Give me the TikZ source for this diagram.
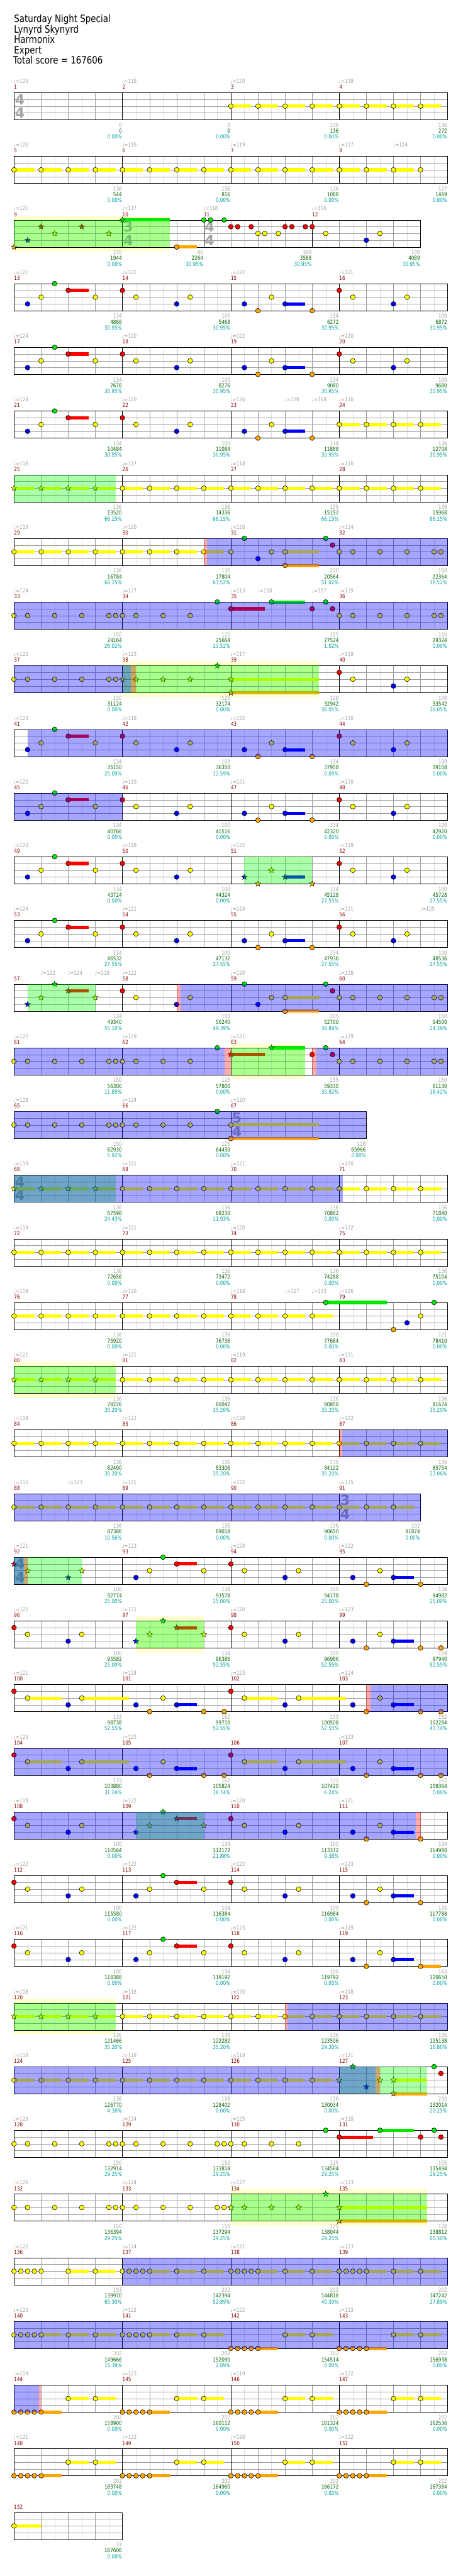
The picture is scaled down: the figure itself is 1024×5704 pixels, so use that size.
\documentclass[tikz,border=0pt]{standalone}
\usepackage{fontspec}
\setmainfont{DejaVu Sans}
\newfontfamily\numf{DejaVu Sans}[FakeStretch=0.82]
\newfontfamily\titf{DejaVu Sans}[FakeStretch=0.83]
\usetikzlibrary{shapes.geometric}
\definecolor{lane0}{RGB}{0,230,0}
\definecolor{lane1}{RGB}{255,0,0}
\definecolor{lane2}{RGB}{255,255,0}
\definecolor{lane3}{RGB}{0,0,255}
\definecolor{lane4}{RGB}{255,165,0}
\definecolor{gline}{RGB}{155,155,155}
\definecolor{lline}{RGB}{222,222,222}
\definecolor{bandc}{RGB}{255,255,208}
\definecolor{tcol}{RGB}{160,160,160}
\definecolor{mcol}{RGB}{140,0,0}
\definecolor{ccol}{RGB}{0,100,0}
\definecolor{pcol}{RGB}{0,160,160}
\definecolor{tsigc}{RGB}{165,165,165}
\definecolor{ogreen}{RGB}{0,255,0}
\definecolor{oblue}{RGB}{0,0,255}
\definecolor{ored}{RGB}{255,0,0}
\tikzset{
 smallfont/.style={font=\numf\fontsize{12.3}{12}\selectfont},
 mnum/.style={smallfont, anchor=base west, inner sep=0pt, text=mcol},
 tempo/.style={smallfont, anchor=base west, inner sep=0pt, text=tcol},
 sA/.style={smallfont, anchor=base east, inner sep=0pt, text=tcol},
 sB/.style={smallfont, anchor=base east, inner sep=0pt, text=ccol},
 sC/.style={smallfont, anchor=base east, inner sep=0pt, text=pcol},
 tsstyle/.style={inner sep=0pt, text=tsigc, font=\fontsize{31}{31}\selectfont\bfseries},
 gov/.style={fill=ogreen, fill opacity=0.33},
 bov/.style={fill=oblue, fill opacity=0.35},
 pov/.style={fill=ored, fill opacity=0.33},
 notec/.style={line width=0.8pt, draw=black},
 starn/.style={star, star points=5, star point ratio=2.3, minimum size=13pt, inner sep=0pt, draw=black, line width=0.6pt},
 titl/.style={anchor=base west, inner sep=0pt, font=\titf\fontsize{22.5}{23}\selectfont}
}
% grid: row, beats, measure lines (beats)
\newcommand\grid[3]{%
 \pgfmathsetmacro\gy{205+141*#1}%
 \pgfmathsetmacro\gx{31+60*#2}%
 \pgfmathtruncatemacro\ne{2*#2-1}%
 \pgfmathtruncatemacro\nb{#2-1}%
 \foreach \i in {1,...,\ne} {\draw[lline] ({31+30*\i},\gy) -- ++(0,60);}
 \foreach \i in {1,...,\nb} {\draw[gline] ({31+60*\i},\gy) -- ++(0,60);}
 \foreach \k in {15,30,45} {\draw[gline] (31,\gy+\k) -- (\gx,\gy+\k);}
 \foreach \i in {#3} {\draw[black] ({31+60*\i},\gy) -- ++(0,60);}
 \draw[black] (31,\gy) rectangle (\gx,\gy+60);
}
\newcommand\band[3]{\pgfmathsetmacro\oy{205+141*#1}\fill[bandc] ({31+15*#2},\oy-10) rectangle ({31+15*#3},\oy+70);}
\newcommand\ovl[4]{\pgfmathsetmacro\oy{205+141*#1}\fill[#4] ({31+15*#2},\oy) rectangle ({31+15*#3},\oy+60);}
\newcommand\tsig[3]{%
 \pgfmathsetmacro\ty{205+141*#1}%
 \node[tsstyle] (ts-#1-#2a) at ({31+60*#2+13},\ty+15) {#3};
 \node[tsstyle] (ts-#1-#2b) at ({31+60*#2+13},\ty+45) {4};}
\newcommand\onenote[4]{%
 \pgfmathsetmacro\ny{205+141*#1+15*#3}%
 \pgfmathsetmacro\nx{31+15*#2}%
 \colorlet{cur}{lane#3}%
 \ifnum#4>0 \fill[cur] (\nx,\ny-3.5) rectangle ({31+15*#4},\ny+3.5);\fi
 \draw[notec, fill=cur] (\nx,\ny) circle (5.3);}
\newcommand\onestar[4]{%
 \pgfmathsetmacro\ny{205+141*#1+15*#3}%
 \pgfmathsetmacro\nx{31+15*#2}%
 \colorlet{cur}{lane#3}%
 \ifnum#4>0 \fill[cur] (\nx,\ny-3.5) rectangle ({31+15*#4},\ny+3.5);\fi
 \node[starn, fill=cur] (s-#1-#2-#3) at (\nx,\ny) {};}
\newcommand\notes[2]{\edef\tmplist{#2}\foreach \p/\l/\e in \tmplist {\onenote{#1}{\p}{\l}{\e}}}
\newcommand\stars[2]{\edef\tmplist{#2}\foreach \p/\l/\e in \tmplist {\onestar{#1}{\p}{\l}{\e}}}
\newcommand\yrun[3]{\pgfmathtruncatemacro\ysec{#2+4}\foreach \p in {#2,\ysec,...,#3} {\pgfmathtruncatemacro\ee{\p+3}\onenote{#1}{\p}{2}{\ee}}}
\newcommand\ysrun[3]{\pgfmathtruncatemacro\ysec{#2+4}\foreach \p in {#2,\ysec,...,#3} {\pgfmathtruncatemacro\ee{\p+3}\onestar{#1}{\p}{2}{\ee}}}
\newcommand\meas[8]{%
 \pgfmathsetmacro\my{205+141*#1}%
 \pgfmathsetmacro\mx{31+15*#2}%
 \pgfmathsetmacro\ex{31+15*#5}%
 \node[mnum] (mn-#3) at (\mx,\my-7.7) {#3};
 \ifx\relax#4\relax\else\node[tempo] (tp-#3) at (\mx-1,\my-20.5) {♩=#4};\fi
 \node[sA] (sa-#3) at (\ex-1,\my+76.3) {#6};
 \node[sB] (sb-#3) at (\ex-1,\my+89.3) {#7};
 \node[sC] (sc-#3) at (\ex-1,\my+102.3) {#8};}
\newcommand\xtempo[3]{\pgfmathsetmacro\my{205+141*#1}\node[tempo] (tx-#1-#2) at ({31+15*#2-1},\my-20.5) {♩=#3};}
% note lists
\def\PAa{2/3/0,4/2/0,6/0/0,8/1/11,12/2/0}
\def\PAb{16/1/0,18/2/0,24/3/0,26/2/0}
\def\PAc{34/3/0,36/4/0,38/2/0,40/3/43,44/4/0}
\def\PAd{48/1/0,50/2/0,56/3/0,58/2/0}
\def\PC{0/2/0,2/2/0,6/2/0,10/2/0,14/2/0,15/2/0,16/2/0,18/2/0,22/2/0,26/2/0}
\def\PCtail{46/0/0,47/1/0,48/2/0,50/2/0,54/2/0,58/2/0,62/2/0,63/2/0}
\def\PBmid{34/0/0,36/3/0,38/2/0,40/2/45,40/4/45}
\def\Dd{0/1/0,2/2/0,8/3/0,10/2/0}
\def\Da{18/3/0,20/2/0,22/0/0,24/1/27,28/2/0}
\def\Db{32/1/0,34/2/0,40/3/0,42/2/0}
\def\Dc{50/3/0,52/4/0,54/2/0,56/3/59}
\def\PEe{0/1/0,2/2/7,8/3/0,10/2/17,18/3/0,20/4/0,22/2/0,24/3/27,28/4/0,31/4/0,32/1/0,34/2/39,40/3/0,42/2/49,50/3/0,52/4/0,54/2/0,56/3/59,60/4/0,63/4/0}
\def\qg#1#2{\the\numexpr#1\relax/#2/0,\the\numexpr#1+1\relax/#2/0,\the\numexpr#1+2\relax/#2/0,\the\numexpr#1+3\relax/#2/0,\the\numexpr#1+4\relax/#2/\the\numexpr#1+7\relax}
\def\hh#1{\the\numexpr#1\relax/2/\the\numexpr#1+3\relax}
\begin{document}
\begin{tikzpicture}[x=1pt,y=-1pt]
\useasboundingbox (0,0) rectangle (1024,5704);
\fill[white] (0,0) rectangle (1024,5704);
\node[titl] (t1) at (31,50) {Saturday Night Special};
\node[titl] (t2) at (31,73) {Lynyrd Skynyrd};
\node[titl] (t3) at (31,95.5) {Harmonix};
\node[titl] (t4) at (31,118.5) {Expert};
\node[titl] (t5) at (29,141.5) {Total score = 167606};
% Row 0
\grid{0}{16}{4,8,12}\tsig{0}{0}{4}\yrun{0}{32}{60}
\meas{0}{0}{1}{120}{16}{0}{0}{0.00\%}\meas{0}{16}{2}{118}{32}{0}{0}{0.00\%}\meas{0}{32}{3}{120}{48}{136}{136}{0.00\%}\meas{0}{48}{4}{119}{64}{136}{272}{0.00\%}
% Row 1
\grid{1}{16}{4,8,12}\yrun{1}{0}{56}\notes{1}{60/2/0}
\meas{1}{0}{5}{120}{16}{136}{544}{0.00\%}\meas{1}{16}{6}{119}{32}{136}{816}{0.00\%}\meas{1}{32}{7}{119}{48}{136}{1088}{0.00\%}\meas{1}{48}{8}{117}{64}{127}{1469}{0.00\%}\xtempo{1}{56}{124}
% Row 2
\band{2}{0}{23}\grid{2}{15}{4,7,11}\tsig{2}{4}{3}\tsig{2}{7}{4}
\stars{2}{0/4/0,2/3/0,4/1/0,6/2/0,10/1/0,14/2/0,16/0/23}
\notes{2}{24/4/27,28/0/0,29/0/0,31/0/0,32/1/0,33/1/0,35/1/0,36/2/0,37/2/0,39/2/0,40/1/0,41/1/0,43/1/0,44/1/0,46/2/0,52/3/0,54/2/0}
\ovl{2}{0}{23}{gov}
\meas{2}{0}{9}{121}{16}{150}{1944}{0.00\%}\meas{2}{16}{10}{117}{28}{80}{2264}{30.95\%}\meas{2}{28}{11}{118}{44}{300}{3589}{30.95\%}\meas{2}{44}{12}{116}{60}{100}{4089}{30.95\%}
% Row 3
\grid{3}{16}{4,8,12}\notes{3}{\PAa,\PAb,\PAc,\PAd}
\meas{3}{0}{13}{121}{16}{134}{4868}{30.95\%}\meas{3}{16}{14}{121}{32}{100}{5468}{30.95\%}\meas{3}{32}{15}{122}{48}{134}{6272}{30.95\%}\meas{3}{48}{16}{121}{64}{100}{6872}{30.95\%}
% Row 4
\grid{4}{16}{4,8,12}\notes{4}{\PAa,\PAb,\PAc,\PAd}
\meas{4}{0}{17}{124}{16}{134}{7676}{30.95\%}\meas{4}{16}{18}{120}{32}{100}{8276}{30.95\%}\meas{4}{32}{19}{122}{48}{134}{9080}{30.95\%}\meas{4}{48}{20}{120}{64}{100}{9680}{30.95\%}
% Row 5
\grid{5}{16}{4,8,12}\notes{5}{\PAa,\PAb,\PAc}\yrun{5}{48}{60}
\meas{5}{0}{21}{124}{16}{134}{10484}{30.95\%}\meas{5}{16}{22}{120}{32}{100}{11084}{30.95\%}\meas{5}{32}{23}{126}{48}{134}{11888}{30.95\%}\meas{5}{48}{24}{116}{64}{136}{12704}{30.95\%}\xtempo{5}{40}{120}\xtempo{5}{44}{114}
% Row 6
\grid{6}{16}{4,8,12}\ysrun{6}{0}{12}\yrun{6}{16}{60}\ovl{6}{0}{15}{gov}
\meas{6}{0}{25}{118}{16}{136}{13520}{66.15\%}\meas{6}{16}{26}{117}{32}{136}{14336}{66.15\%}\meas{6}{32}{27}{118}{48}{136}{15152}{66.15\%}\meas{6}{48}{28}{116}{64}{136}{15968}{66.15\%}
% Row 7
\grid{7}{16}{4,8,12}\yrun{7}{0}{28}\notes{7}{32/2/0,\PBmid,\PCtail}\ovl{7}{28.5}{64}{bov}\ovl{7}{28}{28.5}{pov}
\meas{7}{0}{29}{119}{16}{136}{16784}{66.15\%}\meas{7}{16}{30}{120}{32}{136}{17804}{63.52\%}\meas{7}{32}{31}{120}{48}{230}{20564}{51.02\%}\meas{7}{48}{32}{124}{64}{150}{22364}{38.52\%}
% Row 8
\grid{8}{16}{4,8,12}\notes{8}{\PC,30/0/0,32/1/37,38/0/43,44/1/0,\PCtail}\ovl{8}{0}{64}{bov}
\meas{8}{0}{33}{124}{16}{150}{24164}{26.02\%}\meas{8}{16}{34}{127}{32}{125}{25664}{13.52\%}\meas{8}{32}{35}{113}{48}{155}{27524}{1.02\%}\meas{8}{48}{36}{129}{64}{150}{29324}{0.00\%}\xtempo{8}{36}{118}\xtempo{8}{44}{127}
% Row 9
\band{9}{16}{45}\grid{9}{16}{4,8,12}\notes{9}{0/2/0,2/2/0,6/2/0,10/2/0,14/2/0,15/2/0,\PAd}
\stars{9}{16/2/0,18/2/0,22/2/0,26/2/0,30/0/0,32/2/45,32/4/45}
\ovl{9}{16}{45}{gov}\ovl{9}{0}{17.2}{bov}\ovl{9}{17.2}{18}{pov}
\meas{9}{0}{37}{125}{16}{150}{31124}{0.00\%}\meas{9}{16}{38}{123}{32}{125}{32174}{0.00\%}\meas{9}{32}{39}{117}{48}{128}{32942}{36.05\%}\meas{9}{48}{40}{119}{64}{100}{33542}{36.05\%}
% Row 10
\grid{10}{16}{4,8,12}\notes{10}{\PAa,\PAb,\PAc,\PAd}\ovl{10}{2}{64}{bov}
\meas{10}{0}{41}{123}{16}{134}{35150}{25.09\%}\meas{10}{16}{42}{118}{32}{100}{36350}{12.59\%}\meas{10}{32}{43}{122}{48}{134}{37958}{0.09\%}\meas{10}{48}{44}{120}{64}{100}{39158}{0.00\%}
% Row 11
\grid{11}{16}{4,8,12}\notes{11}{\PAa,\PAb,\PAc,\PAd}\ovl{11}{0}{16}{bov}
\meas{11}{0}{45}{122}{16}{134}{40766}{0.00\%}\meas{11}{16}{46}{119}{32}{100}{41516}{0.00\%}\meas{11}{32}{47}{121}{48}{134}{42320}{0.00\%}\meas{11}{48}{48}{120}{64}{100}{42920}{0.00\%}
% Row 12
\grid{12}{16}{4,8,12}\notes{12}{\PAa,\PAb,\PAd}\stars{12}{\PAc}\ovl{12}{34}{44}{gov}
\meas{12}{0}{49}{123}{16}{134}{43724}{0.00\%}\meas{12}{16}{50}{119}{32}{100}{44324}{0.00\%}\meas{12}{32}{51}{122}{48}{134}{45128}{27.55\%}\meas{12}{48}{52}{118}{64}{100}{45728}{27.55\%}
% Row 13
\grid{13}{16}{4,8,12}\notes{13}{\PAa,\PAb,\PAc,\PAd}
\meas{13}{0}{53}{124}{16}{134}{46532}{27.55\%}\meas{13}{16}{54}{121}{32}{100}{47132}{27.55\%}\meas{13}{32}{55}{124}{48}{134}{47936}{27.55\%}\meas{13}{48}{56}{121}{64}{100}{48536}{27.55\%}\xtempo{13}{60}{125}
% Row 14
\grid{14}{16}{4,8,12}\stars{14}{\PAa}\notes{14}{\PAb,\PBmid,\PCtail}
\ovl{14}{2}{12}{gov}\ovl{14}{24.6}{64}{bov}\ovl{14}{24}{24.6}{pov}
\meas{14}{0}{57}{}{16}{134}{49340}{55.10\%}\meas{14}{16}{58}{122}{32}{100}{50240}{49.39\%}\meas{14}{32}{59}{120}{48}{205}{52700}{36.89\%}\meas{14}{48}{60}{128}{64}{150}{54500}{24.39\%}\xtempo{14}{4}{122}\xtempo{14}{8}{124}\xtempo{14}{12}{119}
% Row 15
\band{15}{32}{43}\grid{15}{16}{4,8,12}\notes{15}{\PC,30/0/0,44/1/0,\PCtail}\stars{15}{32/1/37,38/0/43}
\ovl{15}{32}{43}{gov}\ovl{15}{0}{31.1}{bov}\ovl{15}{44.6}{64}{bov}\ovl{15}{31.1}{32}{pov}\ovl{15}{44}{44.6}{pov}
\meas{15}{0}{61}{127}{16}{150}{56300}{11.89\%}\meas{15}{16}{62}{129}{32}{125}{57800}{0.00\%}\meas{15}{32}{63}{121}{48}{155}{59330}{30.92\%}\meas{15}{48}{64}{129}{64}{150}{61130}{18.42\%}
% Row 16
\grid{16}{13}{4,8}\tsig{16}{8}{5}\notes{16}{\PC,30/0/0,32/2/45,32/4/45}\ovl{16}{0}{52}{bov}
\meas{16}{0}{65}{128}{16}{150}{62930}{5.92\%}\meas{16}{16}{66}{124}{32}{125}{64430}{0.00\%}\meas{16}{32}{67}{120}{52}{128}{65966}{0.00\%}
% Row 17
\grid{17}{16}{4,8,12}\tsig{17}{0}{4}\ysrun{17}{0}{12}\yrun{17}{16}{60}\ovl{17}{0}{15}{gov}\ovl{17}{0}{48.5}{bov}
\meas{17}{0}{68}{119}{16}{136}{67598}{24.43\%}\meas{17}{16}{69}{121}{32}{136}{69230}{11.93\%}\meas{17}{32}{70}{121}{48}{136}{70862}{0.00\%}\meas{17}{48}{71}{120}{64}{136}{71840}{0.00\%}
% Row 18
\grid{18}{16}{4,8,12}\yrun{18}{0}{60}
\meas{18}{0}{72}{119}{16}{136}{72656}{0.00\%}\meas{18}{16}{73}{121}{32}{136}{73472}{0.00\%}\meas{18}{32}{74}{120}{48}{136}{74288}{0.00\%}\meas{18}{48}{75}{122}{64}{136}{75104}{0.00\%}
% Row 19
\grid{19}{16}{4,8,12}\yrun{19}{0}{44}\notes{19}{46/0/55,56/4/0,58/3/0,60/2/0,62/0/0}
\meas{19}{0}{76}{119}{16}{136}{75920}{0.00\%}\meas{19}{16}{77}{120}{32}{136}{76736}{0.00\%}\meas{19}{32}{78}{118}{48}{158}{77684}{0.00\%}\meas{19}{48}{79}{126}{64}{121}{78410}{0.00\%}\xtempo{19}{40}{127}\xtempo{19}{44}{133}
% Row 20
\band{20}{0}{15}\grid{20}{16}{4,8,12}\ysrun{20}{0}{12}\yrun{20}{16}{60}\ovl{20}{0}{15}{gov}
\meas{20}{0}{80}{121}{16}{136}{79226}{35.20\%}\meas{20}{16}{81}{121}{32}{136}{80042}{35.20\%}\meas{20}{32}{82}{119}{48}{136}{80858}{35.20\%}\meas{20}{48}{83}{121}{64}{136}{81674}{35.20\%}
% Row 21
\grid{21}{16}{4,8,12}\yrun{21}{0}{60}\ovl{21}{48.4}{64}{bov}\ovl{21}{48}{48.4}{pov}
\meas{21}{0}{84}{119}{16}{136}{82490}{35.20\%}\meas{21}{16}{85}{122}{32}{136}{83306}{35.20\%}\meas{21}{32}{86}{120}{48}{136}{84122}{35.20\%}\meas{21}{48}{87}{122}{64}{136}{85754}{23.06\%}
% Row 22
\grid{22}{15}{4,8,12}\tsig{22}{12}{3}\yrun{22}{0}{56}\ovl{22}{0}{60}{bov}
\meas{22}{0}{88}{115}{16}{136}{87386}{10.56\%}\meas{22}{16}{89}{121}{32}{136}{89018}{0.00\%}\meas{22}{32}{90}{122}{48}{136}{90650}{0.00\%}\meas{22}{48}{91}{125}{60}{102}{91874}{0.00\%}\xtempo{22}{8}{123}
% Row 23
\grid{23}{16}{4,8,12}\tsig{23}{0}{4}\stars{23}{\Dd}\notes{23}{\Da,\Db,\Dc,60/4/0}
\ovl{23}{0}{10}{gov}\ovl{23}{0}{1.5}{bov}\ovl{23}{1.5}{2}{pov}
\meas{23}{0}{92}{121}{16}{100}{92774}{25.00\%}\meas{23}{16}{93}{123}{32}{134}{93578}{25.00\%}\meas{23}{32}{94}{120}{48}{100}{94178}{25.00\%}\meas{23}{48}{95}{122}{64}{134}{94982}{25.00\%}
% Row 24
\band{24}{18}{28}\grid{24}{16}{4,8,12}\notes{24}{\Dd,\Db,\Dc,60/4/0,63/4/0}\stars{24}{\Da}\ovl{24}{18}{28}{gov}
\meas{24}{0}{96}{122}{16}{100}{95582}{25.00\%}\meas{24}{16}{97}{122}{32}{134}{96386}{52.55\%}\meas{24}{32}{98}{120}{48}{100}{96986}{52.55\%}\meas{24}{48}{99}{123}{64}{159}{97940}{52.55\%}
% Row 25
\grid{25}{16}{4,8,12}\notes{25}{\PEe}\ovl{25}{52.6}{64}{bov}\ovl{25}{52}{52.6}{pov}
\meas{25}{0}{100}{121}{16}{133}{98738}{52.55\%}\meas{25}{16}{101}{124}{32}{162}{99710}{52.55\%}\meas{25}{32}{102}{123}{48}{133}{100508}{52.55\%}\meas{25}{48}{103}{124}{64}{162}{102284}{43.74\%}
% Row 26
\grid{26}{16}{4,8,12}\notes{26}{\PEe}\ovl{26}{0}{64}{bov}
\meas{26}{0}{104}{123}{16}{133}{103880}{31.24\%}\meas{26}{16}{105}{123}{32}{162}{105824}{18.74\%}\meas{26}{32}{106}{}{48}{133}{107420}{6.24\%}\meas{26}{48}{107}{123}{64}{162}{109364}{0.00\%}
% Row 27
\grid{27}{16}{4,8,12}\notes{27}{\Dd,\Db,\Dc,60/4/0}\stars{27}{\Da}
\ovl{27}{18}{28}{gov}\ovl{27}{0}{59.3}{bov}\ovl{27}{59.3}{60}{pov}
\meas{27}{0}{108}{119}{16}{100}{110564}{0.00\%}\meas{27}{16}{109}{122}{32}{134}{112172}{21.88\%}\meas{27}{32}{110}{120}{48}{100}{113372}{9.38\%}\meas{27}{48}{111}{121}{64}{134}{114980}{0.00\%}
% Row 28
\grid{28}{16}{4,8,12}\notes{28}{\Dd,\Da,\Db,\Dc,60/4/0}
\meas{28}{0}{112}{122}{16}{100}{115580}{0.00\%}\meas{28}{16}{113}{122}{32}{134}{116384}{0.00\%}\meas{28}{32}{114}{122}{48}{100}{116984}{0.00\%}\meas{28}{48}{115}{123}{64}{134}{117788}{0.00\%}
% Row 29
\grid{29}{16}{4,8,12}\notes{29}{\Dd,\Da,\Db,\Dc,60/4/63}
\meas{29}{0}{116}{121}{16}{100}{118388}{0.00\%}\meas{29}{16}{117}{123}{32}{134}{119192}{0.00\%}\meas{29}{32}{118}{123}{48}{100}{119792}{0.00\%}\meas{29}{48}{119}{119}{64}{143}{120650}{0.00\%}
% Row 30
\band{30}{0}{15}\grid{30}{16}{4,8,12}\ysrun{30}{0}{12}\yrun{30}{16}{60}
\ovl{30}{0}{15}{gov}\ovl{30}{40.4}{64}{bov}\ovl{30}{40}{40.4}{pov}
\meas{30}{0}{120}{118}{16}{136}{121466}{35.20\%}\meas{30}{16}{121}{118}{32}{136}{122282}{35.20\%}\meas{30}{32}{122}{120}{48}{136}{123506}{29.30\%}\meas{30}{48}{123}{118}{64}{136}{125138}{16.80\%}
% Row 31
\grid{31}{16}{4,8,12}\yrun{31}{0}{44}\stars{31}{48/2/0,50/0/0,52/3/0,54/2/0,56/2/61,56/4/61}\notes{31}{62/0/0,63/1/0}
\ovl{31}{48}{61}{gov}\ovl{31}{0}{53.4}{bov}\ovl{31}{53.4}{54}{pov}
\meas{31}{0}{124}{118}{16}{136}{126770}{4.30\%}\meas{31}{16}{125}{118}{32}{136}{128402}{0.00\%}\meas{31}{32}{126}{118}{48}{136}{130034}{0.00\%}\meas{31}{48}{127}{121}{64}{230}{132014}{29.25\%}
% Row 32
\grid{32}{16}{4,8,12}\notes{32}{\PC,30/2/0,31/2/0,32/2/0,34/2/0,38/2/0,42/2/0,46/0/0,48/1/53,54/0/59,60/1/0,62/0/0,63/1/0}
\meas{32}{0}{128}{125}{16}{150}{132914}{29.25\%}\meas{32}{16}{129}{124}{32}{150}{133814}{29.25\%}\meas{32}{32}{130}{125}{48}{125}{134564}{29.25\%}\meas{32}{48}{131}{120}{64}{155}{135494}{29.25\%}
% Row 33
\band{33}{32}{61}\grid{33}{16}{4,8,12}\notes{33}{\PC,30/2/0,31/2/0}\stars{33}{32/2/0,34/2/0,38/2/0,42/2/0,46/0/0,48/2/61,48/4/61}\ovl{33}{32}{61}{gov}
\meas{33}{0}{132}{126}{16}{150}{136394}{29.25\%}\meas{33}{16}{133}{124}{32}{150}{137294}{29.25\%}\meas{33}{32}{134}{127}{48}{125}{138044}{29.25\%}\meas{33}{48}{135}{123}{64}{128}{138812}{65.30\%}
% Row 34
\grid{34}{16}{4,8,12}\notes{34}{0/2/0,1/2/0,2/2/0,3/2/0,4/2/0,\hh{8},\hh{12},\qg{16}{2},\hh{24},\hh{28},\qg{32}{2},\hh{40},\hh{44},\qg{48}{2},\hh{56},\hh{60}}\ovl{34}{16}{64}{bov}
\meas{34}{0}{136}{122}{16}{193}{139970}{65.30\%}\meas{34}{16}{137}{124}{32}{202}{142394}{52.89\%}\meas{34}{32}{138}{121}{48}{202}{144818}{40.39\%}\meas{34}{48}{139}{123}{64}{202}{147242}{27.89\%}
% Row 35
\grid{35}{16}{4,8,12}\notes{35}{\qg{0}{2},\hh{8},\hh{12},\qg{16}{2},\hh{24},\hh{28},\qg{32}{4},\hh{40},\hh{44},\qg{48}{4},\hh{56},\hh{60}}\ovl{35}{0}{64}{bov}
\meas{35}{0}{140}{120}{16}{202}{149666}{15.39\%}\meas{35}{16}{141}{122}{32}{202}{152090}{2.89\%}\meas{35}{32}{142}{122}{48}{202}{154514}{0.00\%}\meas{35}{48}{143}{123}{64}{202}{156938}{0.00\%}
% Row 36
\grid{36}{16}{4,8,12}\notes{36}{\qg{0}{4},\hh{8},\hh{12},\qg{16}{4},\hh{24},\hh{28},\qg{32}{4},\hh{40},\hh{44},\qg{48}{4},\hh{56},\hh{60}}\ovl{36}{0}{3.7}{bov}\ovl{36}{3.7}{4}{pov}
\meas{36}{0}{144}{119}{16}{202}{158900}{0.00\%}\meas{36}{16}{145}{123}{32}{202}{160112}{0.00\%}\meas{36}{32}{146}{119}{48}{202}{161324}{0.00\%}\meas{36}{48}{147}{122}{64}{202}{162536}{0.00\%}
% Row 37
\grid{37}{16}{4,8,12}\notes{37}{\qg{0}{4},\hh{8},\hh{12},\qg{16}{4},\hh{24},\hh{28},\qg{32}{4},\hh{40},\hh{44},\qg{48}{4},\hh{56},\hh{60}}
\meas{37}{0}{148}{121}{16}{202}{163748}{0.00\%}\meas{37}{16}{149}{123}{32}{202}{164960}{0.00\%}\meas{37}{32}{150}{120}{48}{202}{166172}{0.00\%}\meas{37}{48}{151}{122}{64}{202}{167384}{0.00\%}
% Row 38
\grid{38}{4}{0}\notes{38}{0/2/4}
\meas{38}{0}{152}{}{16}{37}{167606}{0.00\%}
\end{tikzpicture}
\end{document}
